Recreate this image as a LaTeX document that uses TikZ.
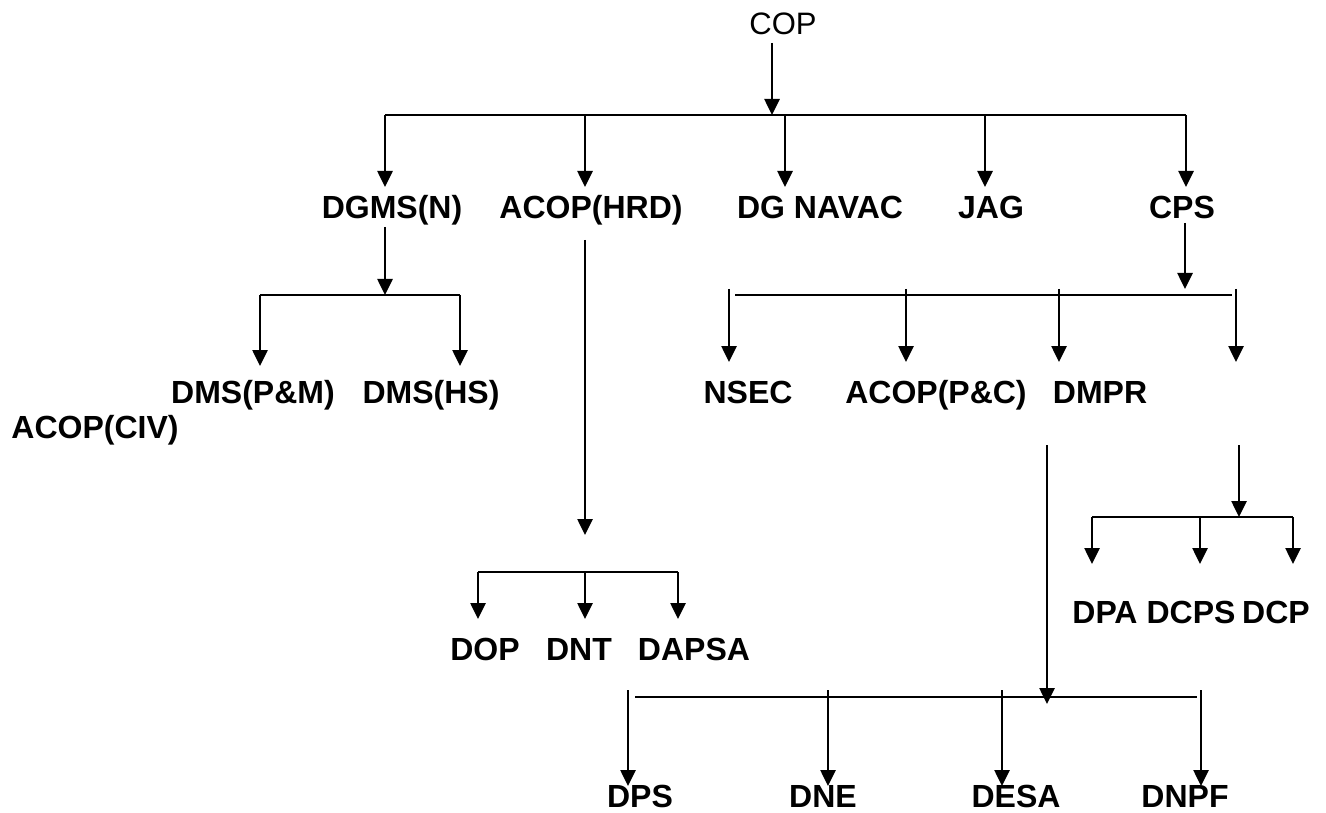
\documentclass[tikz,border=0pt]{standalone}
\usepackage{fontspec}
\setmainfont{Liberation Sans}
\usetikzlibrary{arrows.meta}
\begin{document}
\begin{tikzpicture}[x=1pt,y=-1pt,
  ln/.style={line width=2.6pt},
  arr/.style={ln,-{Triangle[length=16pt,width=15pt]}},
  lbl/.style={font=\fontsize{32}{38}\selectfont\bfseries, anchor=base, inner sep=0pt},
  top/.style={font=\fontsize{31}{37}\selectfont, anchor=base, inner sep=0pt}]
\useasboundingbox (0,0) rectangle (1326,813);
% labels
\node[top] (cop) at (783,35) {COP};
\node[lbl] (dgms) at (392,219) {DGMS(N)};
\node[lbl] (hrd) at (591,219) {ACOP(HRD)};
\node[lbl] (navac) at (820,219) {DG NAVAC};
\node[lbl] (jag) at (991,219) {JAG};
\node[lbl] (cps) at (1182,219) {CPS};
\node[lbl] (pm) at (253,403) {DMS(P\&M)};
\node[lbl] (hs) at (431,403) {DMS(HS)};
\node[lbl] (civ) at (95,438) {ACOP(CIV)};
\node[lbl] (nsec) at (748,403) {NSEC};
\node[lbl] (pc) at (936,403) {ACOP(P\&C)};
\node[lbl] (dmpr) at (1100,403) {DMPR};
\node[lbl] (dop) at (485,660) {DOP};
\node[lbl] (dnt) at (579,660) {DNT};
\node[lbl] (dapsa) at (694,660) {DAPSA};
\node[lbl] (dpa) at (1105,623) {DPA};
\node[lbl] (dcps) at (1191,623) {DCPS};
\node[lbl] (dcp) at (1276,623) {DCP};
\node[lbl] (dps) at (640,807) {DPS};
\node[lbl] (dne) at (823,807) {DNE};
\node[lbl] (desa) at (1016,807) {DESA};
\node[lbl] (dnpf) at (1185,807) {DNPF};
% level 1
\coordinate (copS) at (772,43);
\coordinate (b1L) at (385,115);
\coordinate (b1R) at (1186,115);
\draw[arr] (copS) -- (copS |- b1L);
\draw[ln] (b1L) -- (b1R);
\foreach \n/\x in {a/385,b/585,c/785,d/985,e/1186}{
  \coordinate (t1\n) at (\x,187);
  \draw[arr] (b1L -| t1\n) -- (t1\n);}
% DGMS branch
\coordinate (dgS) at (385,227);
\coordinate (b2L) at (260,295);
\coordinate (b2R) at (460,295);
\draw[arr] (dgS) -- (dgS |- b2L);
\draw[ln] (b2L) -- (b2R);
\foreach \n/\x in {a/260,b/460}{
  \coordinate (t2\n) at (\x,366);
  \draw[arr] (b2L -| t2\n) -- (t2\n);}
% ACOP(HRD) branch
\coordinate (hrdS) at (585,240);
\coordinate (hrdE) at (585,535);
\coordinate (b3L) at (478,572);
\coordinate (b3R) at (678,572);
\draw[arr] (hrdS) -- (hrdE);
\draw[ln] (b3L) -- (b3R);
\foreach \n/\x in {a/478,b/585,c/678}{
  \coordinate (t3\n) at (\x,619);
  \draw[arr] (b3L -| t3\n) -- (t3\n);}
% CPS branch
\coordinate (cpsS) at (1185,223);
\coordinate (cpsE) at (1185,289);
\coordinate (b4L) at (735,295);
\coordinate (b4R) at (1232,295);
\draw[arr] (cpsS) -- (cpsE);
\draw[ln] (b4L) -- (b4R);
\foreach \n/\x in {a/729,b/906,c/1059,d/1236}{
  \coordinate (s4\n) at (\x,289);
  \coordinate (t4\n) at (\x,362);
  \draw[arr] (s4\n) -- (t4\n);}
% right sub-branch
\coordinate (rS) at (1239,445);
\coordinate (b5L) at (1092,517);
\coordinate (b5R) at (1293,517);
\draw[arr] (rS) -- (rS |- b5L);
\draw[ln] (b5L) -- (b5R);
\foreach \n/\x in {a/1092,b/1200,c/1293}{
  \coordinate (t5\n) at (\x,564);
  \draw[arr] (b5L -| t5\n) -- (t5\n);}
% DMPR sub-branch
\coordinate (mS) at (1047,445);
\coordinate (mE) at (1047,704);
\coordinate (b6L) at (635,697);
\coordinate (b6R) at (1197,697);
\draw[arr] (mS) -- (mE);
\draw[ln] (b6L) -- (b6R);
\foreach \n/\x in {a/628,b/828,c/1002,d/1201}{
  \coordinate (s6\n) at (\x,690);
  \coordinate (t6\n) at (\x,786);
  \draw[arr] (s6\n) -- (t6\n);}
\end{tikzpicture}
\end{document}
